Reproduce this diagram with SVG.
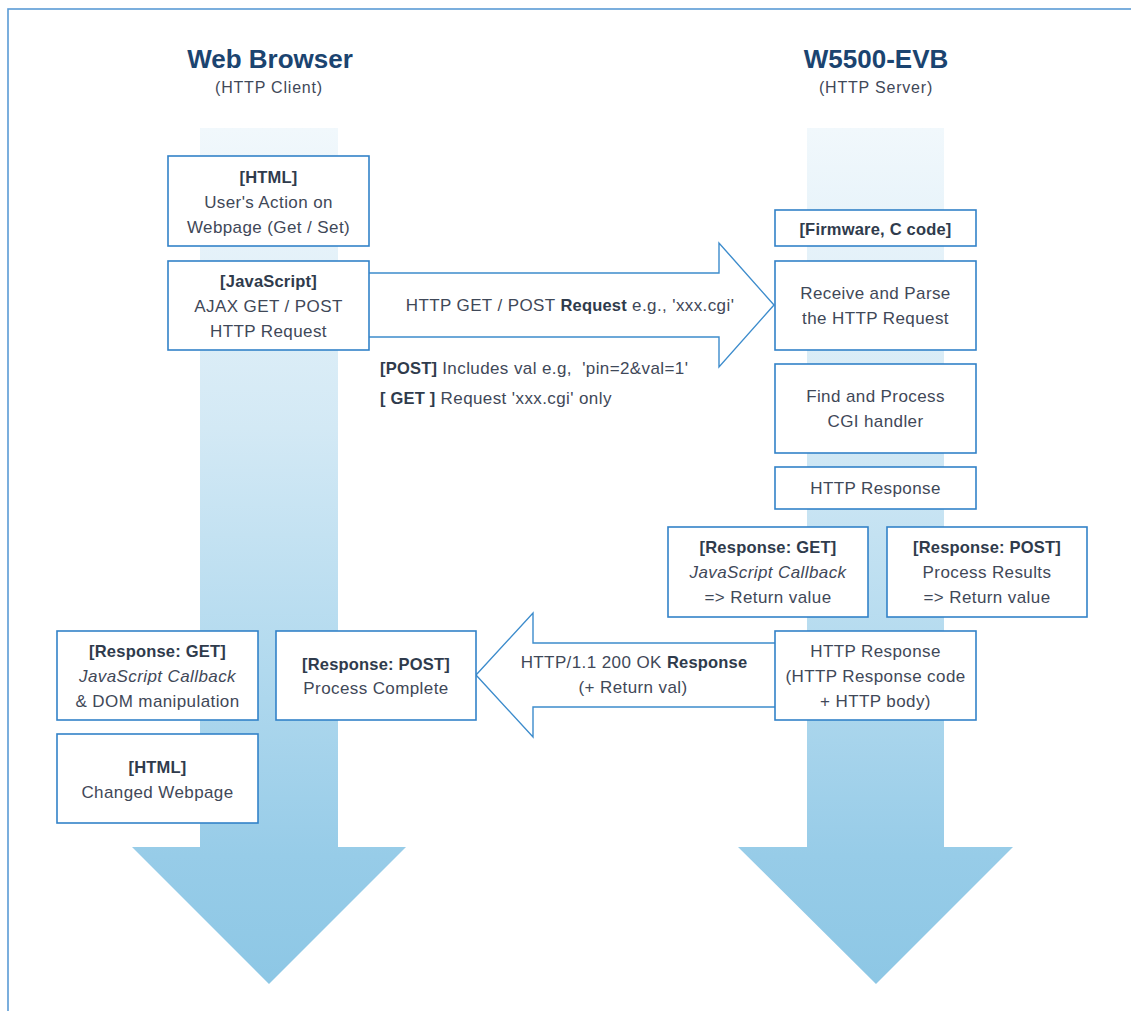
<svg xmlns="http://www.w3.org/2000/svg" width="1131" height="1011" viewBox="0 0 1131 1011">
  <style>
    .frame { fill: none; stroke: #5b9bd5; stroke-width: 1.6; }
    .box { fill: #ffffff; stroke: #3282c8; stroke-width: 1.6; }
    .flow { fill: #ffffff; stroke: #3d8ccc; stroke-width: 1.4; stroke-linejoin: miter; }
    .title { font-family: "Liberation Sans", Arial, sans-serif; font-size: 26px; font-weight: bold; fill: #1b4470; text-anchor: middle; }
    .sub { font-family: "Liberation Sans", Arial, sans-serif; font-size: 16px; letter-spacing: 0.8px; fill: #3f4858; text-anchor: middle; }
    text.t { font-family: "Liberation Sans", Arial, sans-serif; font-size: 17px; letter-spacing: 0.4px; fill: #3f4858; text-anchor: middle; }
    text.l { font-family: "Liberation Sans", Arial, sans-serif; font-size: 17px; letter-spacing: 0.4px; fill: #3f4858; white-space: pre; }
    .b { font-weight: bold; font-size: 16.5px; letter-spacing: 0.2px; fill: #2f3b4c; }
    .i { font-style: italic; }
  </style>
  <defs>
    <linearGradient id="lane" gradientUnits="userSpaceOnUse" x1="0" y1="128" x2="0" y2="984">
      <stop offset="0" stop-color="#f1f8fc"/>
      <stop offset="0.35" stop-color="#d3e9f5"/>
      <stop offset="0.6" stop-color="#b5dbef"/>
      <stop offset="0.85" stop-color="#97cce8"/>
      <stop offset="1" stop-color="#8dc7e5"/>
    </linearGradient>
  </defs>

  <rect x="0" y="0" width="1131" height="1011" fill="#ffffff"/>
  <rect class="frame" x="8" y="9" width="1140" height="1020"/>

  <!-- timeline lanes -->
  <g id="lane-client">
    <polygon points="200,128 338,128 338,847 406,847 269,984 132,847 200,847" fill="url(#lane)"/>
  </g>
  <g id="lane-server">
    <polygon points="807,128 944,128 944,847 1013,847 876,984 738,847 807,847" fill="url(#lane)"/>
  </g>

  <!-- headings -->
  <g id="head-client">
    <text class="title" x="270" y="68">Web Browser</text>
    <text class="sub" x="269" y="93">(HTTP Client)</text>
  </g>
  <g id="head-server">
    <text class="title" x="876" y="68">W5500-EVB</text>
    <text class="sub" x="876" y="93">(HTTP Server)</text>
  </g>

  <!-- connectors -->
  <g id="connectors">
    <path class="flow" d="M369,273 L719,273 L719,243 L774,305 L719,367 L719,337 L369,337"/>
    <text class="t" x="570" y="311">HTTP GET / POST <tspan class="b">Request</tspan> e.g., 'xxx.cgi'</text>
    <text class="l" x="380" y="374"><tspan class="b">[POST]</tspan> Includes val e.g,  'pin=2&amp;val=1'</text>
    <text class="l" x="380" y="404"><tspan class="b">[ GET ]</tspan> Request 'xxx.cgi' only</text>

    <path class="flow" d="M775,643 L533,643 L533,613 L476,675 L533,737 L533,707 L775,707"/>
    <text class="t" x="634" y="668">HTTP/1.1 200 OK <tspan class="b">Response</tspan></text>
    <text class="t" x="633" y="693">(+ Return val)</text>
  </g>

  <!-- client side -->
  <g id="n-html-action">
    <rect class="box" x="168" y="156" width="201" height="90"/>
    <text class="t" x="268.5" y="183"><tspan class="b">[HTML]</tspan></text>
    <text class="t" x="268.5" y="208">User's Action on</text>
    <text class="t" x="268.5" y="233">Webpage (Get / Set)</text>
  </g>
  <g id="n-js-request">
    <rect class="box" x="168" y="261" width="201" height="89"/>
    <text class="t" x="268.5" y="287"><tspan class="b">[JavaScript]</tspan></text>
    <text class="t" x="268.5" y="312">AJAX GET / POST</text>
    <text class="t" x="268.5" y="337">HTTP Request</text>
  </g>
  <g id="n-client-get">
    <rect class="box" x="57" y="631" width="201" height="89"/>
    <text class="t" x="157.5" y="657"><tspan class="b">[Response: GET]</tspan></text>
    <text class="t" x="157.5" y="682"><tspan class="i">JavaScript Callback</tspan></text>
    <text class="t" x="157.5" y="707">&amp; DOM manipulation</text>
  </g>
  <g id="n-client-post">
    <rect class="box" x="276" y="631" width="200" height="89"/>
    <text class="t" x="376" y="670"><tspan class="b">[Response: POST]</tspan></text>
    <text class="t" x="376" y="694">Process Complete</text>
  </g>
  <g id="n-html-changed">
    <rect class="box" x="57" y="734" width="201" height="89"/>
    <text class="t" x="157.5" y="773"><tspan class="b">[HTML]</tspan></text>
    <text class="t" x="157.5" y="798">Changed Webpage</text>
  </g>

  <!-- server side -->
  <g id="n-firmware">
    <rect class="box" x="775" y="210" width="201" height="36"/>
    <text class="t" x="875.5" y="235"><tspan class="b">[Firmware, C code]</tspan></text>
  </g>
  <g id="n-parse">
    <rect class="box" x="775" y="261" width="201" height="89"/>
    <text class="t" x="875.5" y="299">Receive and Parse</text>
    <text class="t" x="875.5" y="324">the HTTP Request</text>
  </g>
  <g id="n-cgi">
    <rect class="box" x="775" y="364" width="201" height="89"/>
    <text class="t" x="875.5" y="402">Find and Process</text>
    <text class="t" x="875.5" y="427">CGI handler</text>
  </g>
  <g id="n-response">
    <rect class="box" x="775" y="467" width="201" height="42"/>
    <text class="t" x="875.5" y="494">HTTP Response</text>
  </g>
  <g id="n-server-get">
    <rect class="box" x="668" y="527" width="200" height="90"/>
    <text class="t" x="768" y="553"><tspan class="b">[Response: GET]</tspan></text>
    <text class="t" x="768" y="578"><tspan class="i">JavaScript Callback</tspan></text>
    <text class="t" x="768" y="603">=&gt; Return value</text>
  </g>
  <g id="n-server-post">
    <rect class="box" x="887" y="527" width="200" height="90"/>
    <text class="t" x="987" y="553"><tspan class="b">[Response: POST]</tspan></text>
    <text class="t" x="987" y="578">Process Results</text>
    <text class="t" x="987" y="603">=&gt; Return value</text>
  </g>
  <g id="n-http-body">
    <rect class="box" x="775" y="631" width="201" height="89"/>
    <text class="t" x="875.5" y="657">HTTP Response</text>
    <text class="t" x="875.5" y="682">(HTTP Response code</text>
    <text class="t" x="875.5" y="707">+ HTTP body)</text>
  </g>
</svg>
